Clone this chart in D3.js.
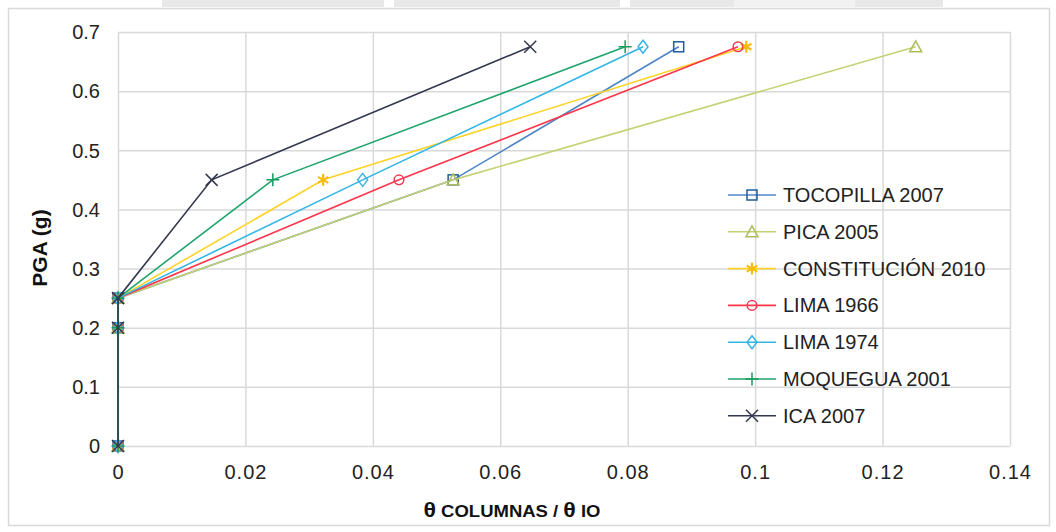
<!DOCTYPE html>
<html>
<head>
<meta charset="utf-8">
<script src="https://cdn.jsdelivr.net/npm/d3@7"></script>
<style>
  html, body { margin: 0; padding: 0; background: #fff; }
  svg { display: block; font-family: "Liberation Sans", Arial, sans-serif; }
</style>
</head>
<body>
<svg id="chart" width="1056" height="532"></svg>
<script>
// PGA levels shared by every record (g)
const pga = [0, 0.2, 0.25, 0.45, 0.675];

// Column rotation ratio (θ columnas / θ IO) for each record
const tocopilla2007   = [0, 0, 0, 0.0526, 0.0880];
const pica2005        = [0, 0, 0, 0.0526, 0.1252];
const constitucion2010 = [0, 0, 0, 0.0322, 0.0986];
const lima1966        = [0, 0, 0, 0.0441, 0.0973];
const lima1974        = [0, 0, 0, 0.0384, 0.0824];
const moquegua2001    = [0, 0, 0, 0.0243, 0.0796];
const ica2007         = [0, 0, 0, 0.0147, 0.0647];

const seriesNames = ["TOCOPILLA 2007", "PICA 2005", "CONSTITUCIÓN 2010",
                     "LIMA 1966", "LIMA 1974", "MOQUEGUA 2001", "ICA 2007"];
const seriesValues = [tocopilla2007, pica2005, constitucion2010,
                      lima1966, lima1974, moquegua2001, ica2007];

// Axis ticks
const xTicks = [0, 0.02, 0.04, 0.06, 0.08, 0.1, 0.12, 0.14];
const yTicks = [0, 0.1, 0.2, 0.3, 0.4, 0.5, 0.6, 0.7];
const xTitle = ["θ", " COLUMNAS / ", "θ", " IO"];
const yTitle = "PGA (g)";

// Styling per series: line colour, marker colour, marker kind
const styles = [
  { line: "#4f86c6", mark: "#1f5c99", kind: "square" },
  { line: "#c4d172", mark: "#aebd5e", kind: "triangle" },
  { line: "#ffd324", mark: "#f7bb10", kind: "star" },
  { line: "#ff3448", mark: "#f03a55", kind: "circle" },
  { line: "#2fb6e6", mark: "#3ab4e4", kind: "diamond" },
  { line: "#1fa46c", mark: "#129c5e", kind: "plus" },
  { line: "#33384f", mark: "#33384f", kind: "x" }
];

const svg = d3.select("#chart");

// faint page band above the chart frame
const band = [[162, 195], [195, 384], [394, 620], [630, 734], [855, 943]];
svg.append("g").selectAll("rect").data(band).join("rect")
  .attr("x", d => d[0]).attr("y", 0)
  .attr("width", d => d[1] - d[0]).attr("height", 7)
  .attr("fill", "#e8e8e8");
svg.append("rect").attr("x", 734).attr("y", 0).attr("width", 121).attr("height", 7)
  .attr("fill", "#f1f1f1");

// chart frame
svg.append("rect")
  .attr("x", 8.5).attr("y", 8.5).attr("width", 1041).attr("height", 517)
  .attr("fill", "#fff").attr("stroke", "#d9d9d9").attr("stroke-width", 1.5);

const x = d3.scaleLinear().domain([0, 0.14]).range([118, 1010]);
const y = d3.scaleLinear().domain([0, 0.7]).range([446, 32]);

// gridlines
const grid = svg.append("g");
grid.append("g")
  .attr("transform", `translate(${x(0)},0)`)
  .call(d3.axisLeft(y).tickValues(yTicks).tickSize(-(x(0.14) - x(0))).tickFormat(""))
  .call(g => g.select(".domain").remove())
  .call(g => g.selectAll("line").attr("stroke", "#d9d9d9").attr("stroke-width", 1.5));
grid.append("g")
  .attr("transform", `translate(0,${y(0)})`)
  .call(d3.axisBottom(x).tickValues(xTicks).tickSize(-(y(0) - y(0.7))).tickFormat(""))
  .call(g => g.select(".domain").remove())
  .call(g => g.selectAll("line").attr("stroke", "#d9d9d9").attr("stroke-width", 1.5));

// tick labels
const fmt = d => String(+d.toFixed(2));
svg.append("g")
  .attr("transform", `translate(${x(0) - 18},0)`)
  .call(d3.axisLeft(y).tickValues(yTicks).tickSize(0).tickPadding(0).tickFormat(fmt))
  .call(g => g.select(".domain").remove())
  .call(g => g.selectAll("text").attr("font-size", 20).attr("fill", "#222")
    .attr("font-family", "Liberation Sans, Arial, sans-serif").attr("dy", "0.34em"));
svg.append("g")
  .attr("transform", `translate(0,${y(0) + 19})`)
  .call(d3.axisBottom(x).tickValues(xTicks).tickSize(0).tickPadding(0).tickFormat(fmt))
  .call(g => g.select(".domain").remove())
  .call(g => g.selectAll("text").attr("font-size", 20).attr("fill", "#222")
    .attr("letter-spacing", 1)
    .attr("font-family", "Liberation Sans, Arial, sans-serif").attr("dy", "0.71em"));

// axis titles
const xt = svg.append("text")
  .attr("x", 512).attr("y", 517).attr("text-anchor", "middle")
  .attr("font-weight", "bold").attr("fill", "#111")
  .attr("textLength", 177).attr("lengthAdjust", "spacingAndGlyphs");
xTitle.forEach((s, i) => xt.append("tspan").attr("font-size", i % 2 === 0 ? 20 : 16).text(s));

svg.append("text")
  .attr("transform", "translate(47,248) rotate(-90)")
  .attr("text-anchor", "middle").attr("font-size", 21).attr("font-weight", "bold")
  .attr("fill", "#111").text(yTitle);

// marker drawing
function drawMarker(g, kind, color) {
  const sw = 1.5;
  switch (kind) {
    case "square":
      g.append("rect").attr("x", -5).attr("y", -5).attr("width", 10).attr("height", 10)
        .attr("fill", "none").attr("stroke", color).attr("stroke-width", sw); break;
    case "triangle":
      g.append("path").attr("d", "M0,-6L6,5L-6,5Z")
        .attr("fill", "none").attr("stroke", color).attr("stroke-width", sw); break;
    case "circle":
      g.append("circle").attr("r", 4.8)
        .attr("fill", "none").attr("stroke", color).attr("stroke-width", sw); break;
    case "diamond":
      g.append("path").attr("d", "M0,-6.5L5,0L0,6.5L-5,0Z")
        .attr("fill", "none").attr("stroke", color).attr("stroke-width", sw); break;
    case "plus":
      g.append("path").attr("d", "M0,-6.5V6.5M-6.5,0H6.5")
        .attr("stroke", color).attr("stroke-width", sw); break;
    case "x":
      g.append("path").attr("d", "M-6,-6L6,6M-6,6L6,-6")
        .attr("stroke", color).attr("stroke-width", sw); break;
    case "star":
      g.append("path").attr("d", "M0,-6V6M-5.2,-3L5.2,3M-5.2,3L5.2,-3")
        .attr("stroke", color).attr("stroke-width", 2.2); break;
  }
}

// series lines and markers
const line = d3.line().x(d => x(d[0])).y(d => y(d[1]));
const plot = svg.append("g");
seriesValues.forEach((vals, i) => {
  const pts = vals.map((v, k) => [v, pga[k]]);
  const g = plot.append("g");
  g.append("path").attr("d", line(pts)).attr("fill", "none")
    .attr("stroke", styles[i].line).attr("stroke-width", 1.6);
  pts.forEach(p => {
    const m = g.append("g").attr("transform", `translate(${x(p[0])},${y(p[1])})`);
    drawMarker(m, styles[i].kind, styles[i].mark);
  });
});

// legend
const legend = svg.append("g");
seriesNames.forEach((name, i) => {
  const cy = 195 + i * 36.8;
  const row = legend.append("g").attr("transform", `translate(0,${cy})`);
  row.append("line").attr("x1", 728).attr("x2", 776).attr("y1", 0).attr("y2", 0)
    .attr("stroke", styles[i].line).attr("stroke-width", 1.6);
  const m = row.append("g").attr("transform", "translate(752,0)");
  drawMarker(m, styles[i].kind, styles[i].mark);
  row.append("text").attr("x", 783).attr("y", 7).attr("font-size", 20)
    .attr("fill", "#222").text(name);
});
</script>
</body>
</html>
